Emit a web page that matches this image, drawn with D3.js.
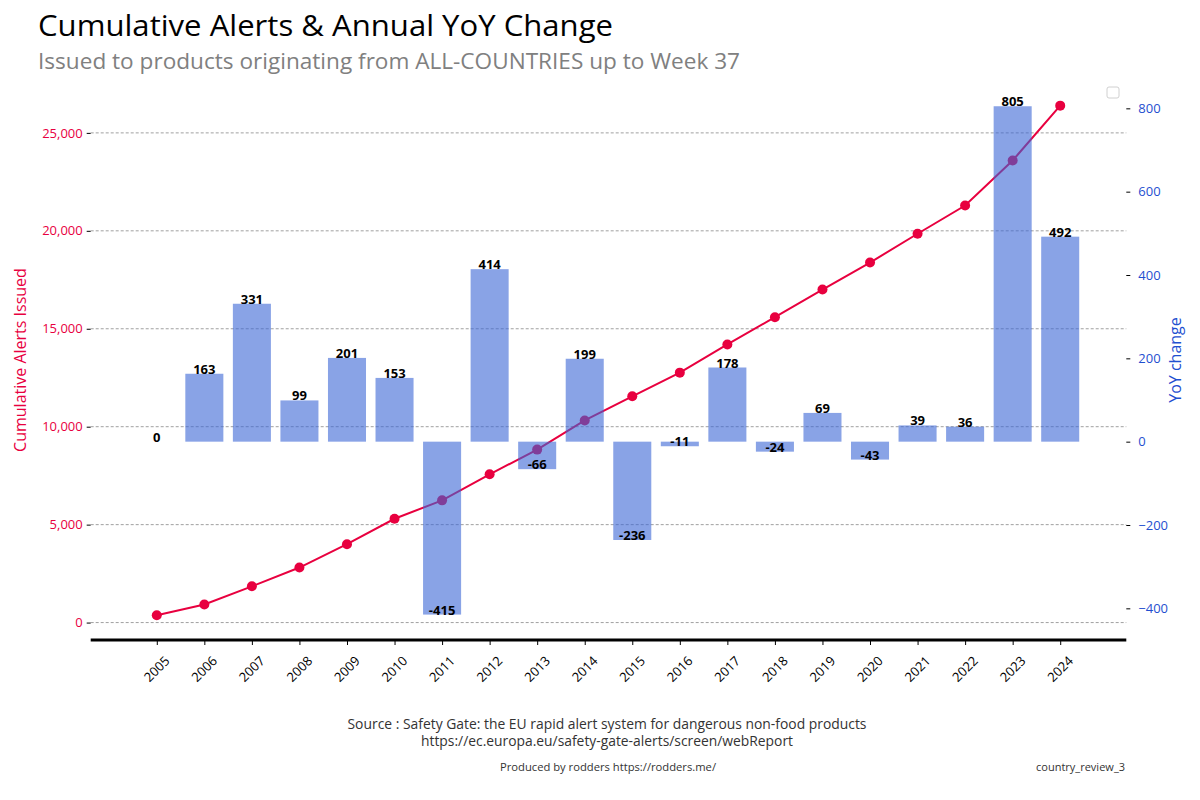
<!DOCTYPE html>
<html>
<head>
<meta charset="utf-8">
<script src="https://cdn.jsdelivr.net/npm/d3@7"></script>
<style>
	body { margin: 0; background: #fff; }
	text { font-family: "Open Sans", "Noto Sans", sans-serif; }
</style>
</head>
<body>
<div id="graph"></div>
<script>
// Yearly categories, cumulative alerts (line, left axis) and yoy change (bars, right axis)
var years = ["2005", "2006", "2007", "2008", "2009", "2010", "2011", "2012", "2013", "2014",
	"2015", "2016", "2017", "2018", "2019", "2020", "2021", "2022", "2023", "2024"];
var cumulative = [370, 920, 1850, 2810, 4000, 5300, 6240, 7570, 8830, 10320,
	11550, 12760, 14200, 15590, 17000, 18380, 19850, 21290, 23590, 26390];
var yoy = [0, 163, 331, 99, 201, 153, -415, 414, -66, 199,
	-236, -11, 178, -24, 69, -43, 39, 36, 805, 492];
var left_ticks = [0, 5000, 10000, 15000, 20000, 25000];
var right_ticks = [-400, -200, 0, 200, 400, 600, 800];

var line_color = "#e8003f";
var bar_color = "#3a66d6";
var right_color = "#1f4fd0";

var width = 1200, height = 800;
var plot = {left: 90.7, right: 1126.3, top: 80, bottom: 640};

var svg = d3.select("#graph").append("svg")
	.attr("width", width)
	.attr("height", height);

// Scales
var scale_x = d3.scaleLinear()
	.domain([-1.39, years.length - 1 + 1.39])
	.range([plot.left, plot.right]);
var scale_cum = d3.scaleLinear()
	.domain([-890, 27700])
	.range([plot.bottom, plot.top]);
var scale_yoy = d3.scaleLinear()
	.domain([-476, 868])
	.range([plot.bottom, plot.top]);
var bar_w = scale_x(0.4) - scale_x(-0.4);

// Titles
svg.append("text")
	.attr("x", 38).attr("y", 36)
	.attr("textLength", 575).attr("lengthAdjust", "spacingAndGlyphs")
	.style("font-size", "30px")
	.style("fill", "#000")
	.text("Cumulative Alerts & Annual YoY Change");
svg.append("text")
	.attr("x", 38).attr("y", 69)
	.attr("textLength", 702).attr("lengthAdjust", "spacingAndGlyphs")
	.style("font-size", "21px")
	.style("fill", "#808080")
	.text("Issued to products originating from ALL-COUNTRIES up to Week 37");

// Gridlines from the left axis
svg.append("g")
	.selectAll("line")
	.data(left_ticks)
	.enter()
	.append("line")
	.attr("x1", plot.left)
	.attr("x2", plot.right)
	.attr("y1", function(d) { return scale_cum(d); })
	.attr("y2", function(d) { return scale_cum(d); })
	.style("stroke", "#888")
	.style("stroke-width", 0.8)
	.style("stroke-dasharray", "3,2");

// Cumulative line + markers
var line = d3.line()
	.x(function(d, i) { return scale_x(i); })
	.y(function(d) { return scale_cum(d); });

svg.append("path")
	.attr("fill", "none")
	.attr("stroke", line_color)
	.attr("stroke-width", 2)
	.attr("d", line(cumulative));

svg.append("g")
	.selectAll("circle")
	.data(cumulative)
	.enter()
	.append("circle")
	.attr("cx", function(d, i) { return scale_x(i); })
	.attr("cy", function(d) { return scale_cum(d); })
	.attr("r", 5)
	.attr("fill", line_color);

// YoY bars (semi transparent, on top of the line)
svg.append("g")
	.selectAll("rect")
	.data(yoy)
	.enter()
	.append("rect")
	.attr("x", function(d, i) { return scale_x(i) - bar_w / 2; })
	.attr("width", bar_w)
	.attr("y", function(d) { return scale_yoy(Math.max(0, d)); })
	.attr("height", function(d) { return Math.abs(scale_yoy(d) - scale_yoy(0)); })
	.attr("fill", bar_color)
	.attr("fill-opacity", 0.6);

// Bar value labels
svg.append("g")
	.selectAll("text")
	.data(yoy)
	.enter()
	.append("text")
	.attr("x", function(d, i) { return scale_x(i); })
	.attr("y", function(d) { return scale_yoy(d); })
	.style("text-anchor", "middle")
	.style("font-size", "13px")
	.style("font-weight", "bold")
	.style("fill", "#000")
	.text(function(d) { return d; });

// Bottom axis
var x_axis = svg.append("g")
	.attr("transform", "translate(0," + plot.bottom + ")")
	.call(d3.axisBottom(scale_x)
		.tickValues(d3.range(years.length))
		.tickSize(5)
		.tickFormat(""));
x_axis.select(".domain")
	.attr("d", "M" + plot.left + ",0H" + plot.right)
	.style("stroke", "#000")
	.style("stroke-width", 3);
x_axis.selectAll(".tick line").style("stroke", "#000");

svg.append("g")
	.selectAll("text")
	.data(years)
	.enter()
	.append("text")
	.attr("transform", function(d, i) { return "translate(" + scale_x(i) + ",669) rotate(-45)"; })
	.attr("dy", "0.35em")
	.style("text-anchor", "middle")
	.style("font-size", "13px")
	.style("fill", "#000")
	.text(function(d) { return d; });

// Left axis
var left_axis = svg.append("g")
	.attr("transform", "translate(" + plot.left + ",0)")
	.call(d3.axisLeft(scale_cum)
		.tickValues(left_ticks)
		.tickSize(4)
		.tickPadding(4)
		.tickFormat(d3.format(",")));
left_axis.select(".domain").remove();
left_axis.selectAll("text")
	.style("font-size", "13px")
	.style("font-family", "'Open Sans', sans-serif")
	.style("fill", line_color);

svg.append("text")
	.attr("transform", "translate(26,360) rotate(-90)")
	.style("text-anchor", "middle")
	.style("font-size", "16px")
	.style("fill", line_color)
	.text("Cumulative Alerts Issued");

// Right axis
var right_axis = svg.append("g")
	.attr("transform", "translate(" + plot.right + ",0)")
	.call(d3.axisRight(scale_yoy)
		.tickValues(right_ticks)
		.tickSize(4)
		.tickPadding(8)
		.tickFormat(d3.format("d")));
right_axis.select(".domain").remove();
right_axis.selectAll("text")
	.style("font-size", "13px")
	.style("font-family", "'Open Sans', sans-serif")
	.style("fill", right_color);

svg.append("text")
	.attr("transform", "translate(1181,360) rotate(-90)")
	.style("text-anchor", "middle")
	.style("font-size", "16px")
	.style("fill", right_color)
	.text("YoY change");

// Empty legend box
svg.append("rect")
	.attr("x", 1107).attr("y", 87)
	.attr("width", 12).attr("height", 11)
	.attr("rx", 2)
	.style("fill", "#fff")
	.style("stroke", "#d0d0d0");

// Footer
svg.append("text")
	.attr("x", 607).attr("y", 729)
	.attr("textLength", 519).attr("lengthAdjust", "spacingAndGlyphs")
	.style("text-anchor", "middle")
	.style("font-size", "14px")
	.style("fill", "#333")
	.text("Source : Safety Gate: the EU rapid alert system for dangerous non-food products");
svg.append("text")
	.attr("x", 607).attr("y", 746)
	.attr("textLength", 372).attr("lengthAdjust", "spacingAndGlyphs")
	.style("text-anchor", "middle")
	.style("font-size", "14px")
	.style("fill", "#333")
	.text("https://ec.europa.eu/safety-gate-alerts/screen/webReport");
svg.append("text")
	.attr("x", 608).attr("y", 771)
	.attr("textLength", 216).attr("lengthAdjust", "spacingAndGlyphs")
	.style("text-anchor", "middle")
	.style("font-size", "10px")
	.style("fill", "#333")
	.text("Produced by rodders https://rodders.me/");
svg.append("text")
	.attr("x", 1125).attr("y", 771)
	.attr("textLength", 89).attr("lengthAdjust", "spacingAndGlyphs")
	.style("text-anchor", "end")
	.style("font-size", "10px")
	.style("fill", "#333")
	.text("country_review_3");
</script>
</body>
</html>
